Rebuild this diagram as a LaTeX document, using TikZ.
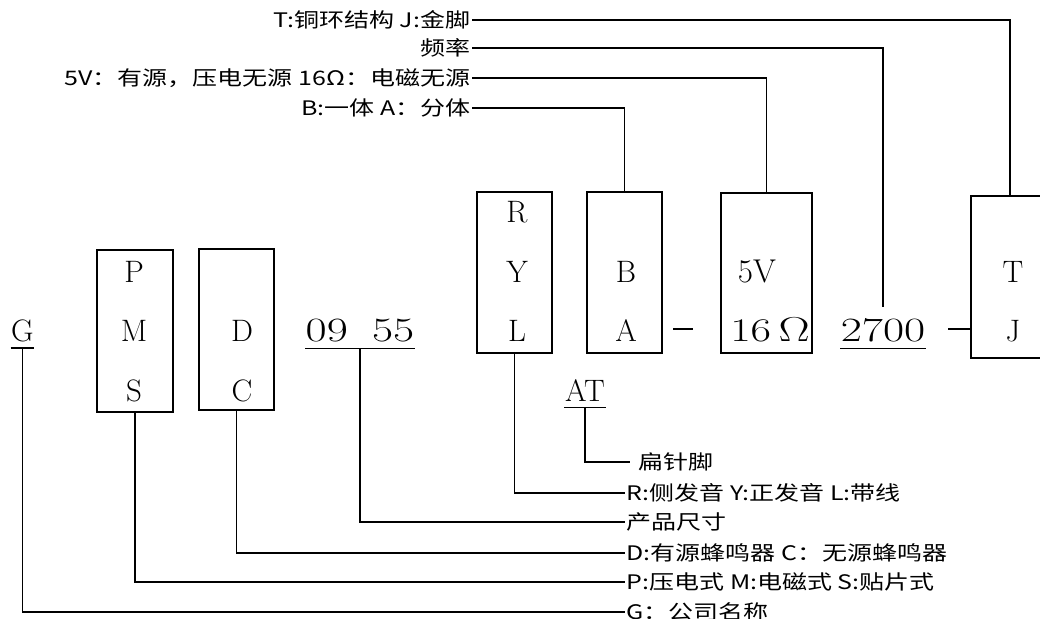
\documentclass[tikz,border=0pt]{standalone}
\usepackage{fontspec}
\usepackage{amsmath}
\newfontfamily\cjk[FakeStretch=1.25]{Noto Sans CJK SC}
\newcommand{\wideText}[1]{\scalebox{1.35}[1]{#1}}

\begin{document}
\begin{tikzpicture}[
            x = 0.5pt, y = -0.5pt, % one unit = one pixel of the sketch
            line width = 0.7pt, % line style
            codebox/.style = {draw, inner sep = 0pt},
            letter/.style = {anchor = base, inner sep = 0pt, font = \fontsize{15.5}{17}\selectfont},
            digits/.style = {anchor = base, inner xsep = 0pt, inner ysep = 2.5pt, font = \fontsize{17}{19}\selectfont},
            ul/.style = {anchor = base, inner xsep = 0pt, inner ysep = 2.5pt, font = \fontsize{15.5}{17}\selectfont},
            note/.style = {inner sep = 0.5pt, font = \cjk\fontsize{10}{12}\selectfont}
        ]

        \useasboundingbox (0,0) rectangle (1040,619);
        \clip (0,0) rectangle (1040,619);

        % code boxes
        \node[codebox, minimum width=38pt, minimum height=81pt] (pms) at (135,331) {};
        \node[codebox, minimum width=37.5pt, minimum height=80.5pt] (dc) at (236.5,329.5) {};
        \node[codebox, minimum width=37.5pt, minimum height=80.5pt] (ryl) at (514.5,272.5) {};
        \node[codebox, minimum width=37.5pt, minimum height=80.5pt] (ba) at (624.5,272.5) {};
        \node[codebox, minimum width=45.5pt, minimum height=80pt] (volt) at (766.5,273) {};
        \node[codebox, minimum width=39pt, minimum height=81pt] (tj) at (1010,277) {};

        % letters in the boxes
        \node[letter] (p) at (134,283) {P};
        \node[letter] (m) at (134,342) {M};
        \node[letter] (s) at (134,402) {S};
        \node[letter] (d) at (242,342) {D};
        \node[letter] (c) at (242,402) {C};
        \node[letter] (r) at (517,223) {R};
        \node[letter] (y) at (517,283) {Y};
        \node[letter] (l) at (517,342) {L};
        \node[letter] (b) at (626,283) {B};
        \node[letter] (a) at (626,342) {A};
        \node[letter, font=\fontsize{16.5}{18}\selectfont] (v5) at (757,283) {5V};
        \node[letter, font=\fontsize{16.5}{18}\selectfont] (ohm) at (770,342) {\wideText{16\,$\Omega$}};
        \node[letter] (t) at (1013,283) {T};
        \node[letter] (j) at (1013,342) {J};

        % underlined parts
        \node[ul] (g) at (22.5,342) {G};
        \node[digits] (size) at (360,342) {\wideText{09\hspace{9pt}55}};
        \node[digits] (freq) at (883,342) {\wideText{2700}};
        \node[ul] (pin) at (585,402) {AT};
        \draw (g.south west) -- (g.south east);
        \draw (size.south west) -- (size.south east);
        \draw (freq.south west) -- (freq.south east);
        \draw (pin.south west) -- (pin.south east);

        % dashes between the parts
        \coordinate (d1) at (673,329);
        \coordinate (d2) at (948,329);
        \draw (d1) -- ++(20,0);
        \draw (d2) -- (d2 -| tj.west);

        % notes above
        \node[note, anchor=east] (nT) at (472,20) {T:铜环结构 J:金脚};
        \node[note, anchor=east] (nF) at (472,48) {频率};
        \node[note, anchor=east] (nV) at (472,78) {5V：有源，压电无源 16Ω：电磁无源};
        \node[note, anchor=east] (nB) at (472,108) {B:一体 A：分体};

        % notes below
        \node[note, anchor=west, inner xsep=4pt] (nPin) at (630,462) {扁针脚};
        \node[note, anchor=west] (nR) at (625,493) {R:侧发音 Y:正发音 L:带线};
        \node[note, anchor=west] (nSize) at (625,522) {产品尺寸};
        \node[note, anchor=west] (nD) at (625,553) {D:有源蜂鸣器 C：无源蜂鸣器};
        \node[note, anchor=west] (nP) at (625,582) {P:压电式 M:电磁式 S:贴片式};
        \node[note, anchor=west] (nG) at (625,612) {G：公司名称};

        \draw (nT.east) -| (tj.north);
        \draw (nF.east) -| ([yshift=3pt]freq.north);
        \draw (nV.east) -| (volt.north);
        \draw (nB.east) -| (ba.north);

        \draw (pin.south) |- (nPin.west);
        \draw (ryl.south) |- (nR.west);
        \draw (size.south) |- (nSize.west);
        \draw (dc.south) |- (nD.west);
        \draw (pms.south) |- (nP.west);
        \draw (g.south) |- (nG.west);
    \end{tikzpicture}
\end{document}
